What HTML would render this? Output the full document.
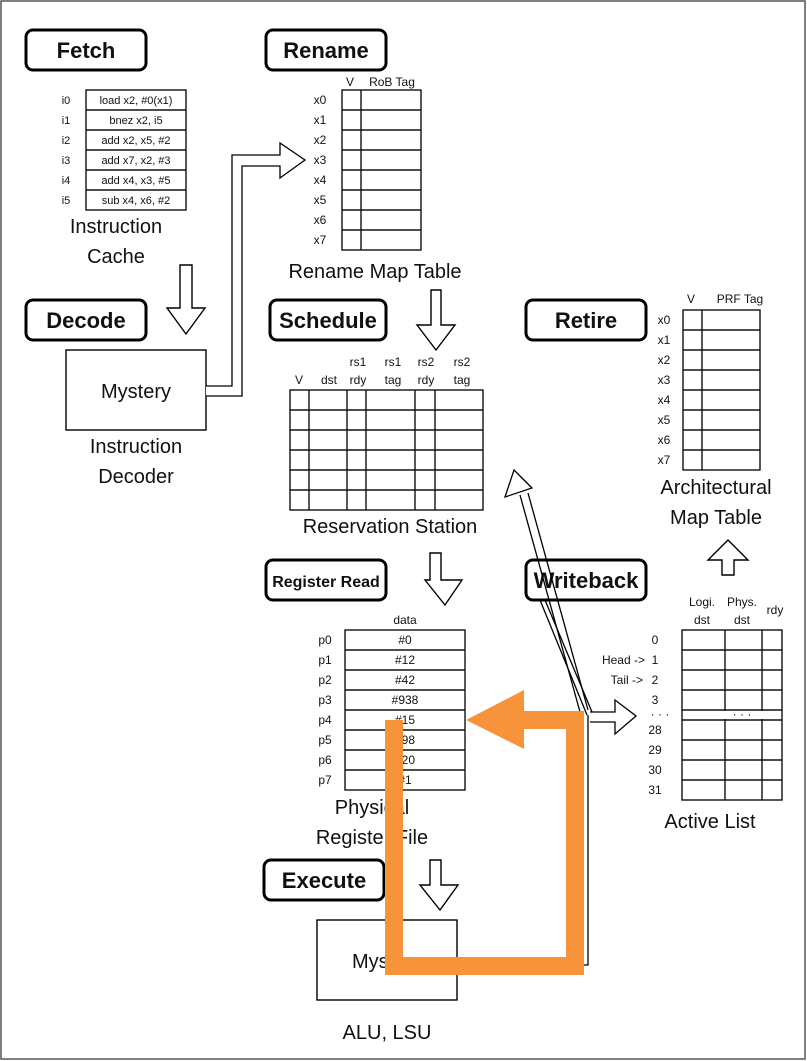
<!DOCTYPE html>
<html><head><style>
body{margin:0;background:#fff}
svg{display:block}
text{font-family:"Liberation Sans",sans-serif;fill:#111}
.s{font-size:11px}
.m{font-size:12px}
.l{font-size:20px}
.h{font-size:22px;font-weight:bold}
.t line,.t rect{stroke:#111;stroke-width:1.4;fill:none}
</style></head><body>
<svg width="807" height="1061" viewBox="0 0 807 1061">
<rect x="1" y="1" width="804" height="1058" fill="none" stroke="#555" stroke-width="1.5"/>
<g fill="none" stroke="#000" stroke-width="3">
<rect x="26" y="30" width="120" height="40" rx="7"/>
<rect x="266" y="30" width="120" height="40" rx="7"/>
<rect x="26" y="300" width="120" height="40" rx="7"/>
<rect x="270" y="300" width="116" height="40" rx="7"/>
<rect x="526" y="300" width="120" height="40" rx="7"/>
<rect x="266" y="560" width="120" height="40" rx="7"/>
<rect x="244" y="560" width="0" height="0"/>
<rect x="526" y="560" width="120" height="40" rx="7"/>
<rect x="264" y="860" width="120" height="40" rx="7"/>
</g>
<g text-anchor="middle">
<text x="86" y="58" class="h">Fetch</text>
<text x="326" y="58" class="h">Rename</text>
<text x="86" y="328" class="h">Decode</text>
<text x="328" y="328" class="h">Schedule</text>
<text x="586" y="328" class="h">Retire</text>
<text x="326" y="587" style="font-size:16px;font-weight:bold">Register Read</text>
<text x="586" y="588" class="h">Writeback</text>
<text x="324" y="888" class="h">Execute</text>
</g>
<!-- Instruction cache -->
<g class="t"><rect x="86" y="90" width="100" height="120"/>
<line x1="86" y1="110" x2="186" y2="110"/><line x1="86" y1="130" x2="186" y2="130"/><line x1="86" y1="150" x2="186" y2="150"/><line x1="86" y1="170" x2="186" y2="170"/><line x1="86" y1="190" x2="186" y2="190"/></g>
<g class="s" text-anchor="middle">
<text x="66" y="104">i0</text><text x="66" y="124">i1</text><text x="66" y="144">i2</text><text x="66" y="164">i3</text><text x="66" y="184">i4</text><text x="66" y="204">i5</text>
<text x="136" y="104">load x2, #0(x1)</text><text x="136" y="124">bnez x2, i5</text><text x="136" y="144">add x2, x5, #2</text><text x="136" y="164">add x7, x2, #3</text><text x="136" y="184">add x4, x3, #5</text><text x="136" y="204">sub x4, x6, #2</text>
</g>
<g class="l" text-anchor="middle"><text x="116" y="233">Instruction</text><text x="116" y="263">Cache</text></g>
<!-- Rename map -->
<g class="t"><rect x="342" y="90" width="79" height="160"/><line x1="361" y1="90" x2="361" y2="250"/>
<line x1="342" y1="110" x2="421" y2="110"/><line x1="342" y1="130" x2="421" y2="130"/><line x1="342" y1="150" x2="421" y2="150"/><line x1="342" y1="170" x2="421" y2="170"/><line x1="342" y1="190" x2="421" y2="190"/><line x1="342" y1="210" x2="421" y2="210"/><line x1="342" y1="230" x2="421" y2="230"/></g>
<g class="m" text-anchor="middle"><text x="350" y="86">V</text><text x="392" y="86">RoB Tag</text>
<text x="320" y="104">x0</text><text x="320" y="124">x1</text><text x="320" y="144">x2</text><text x="320" y="164">x3</text><text x="320" y="184">x4</text><text x="320" y="204">x5</text><text x="320" y="224">x6</text><text x="320" y="244">x7</text></g>
<text x="375" y="278" class="l" text-anchor="middle">Rename Map Table</text>
<!-- hollow down arrows -->
<g fill="#fff" stroke="#000" stroke-width="1.4">
<path d="M180,265 L192,265 L192,308 L205,308 L186,334 L167,308 L180,308 Z"/>
<path d="M431,290 L441,290 L441,325 L455,325 L436,350 L417,325 L431,325 Z"/>
<path d="M430,553 L441,553 L441,580 L462,580 L445,605 L425,580 L430,580 Z"/>
<path d="M430,860 L441,860 L441,885 L458,885 L440,910 L420,885 L430,885 Z"/>
<path d="M722,575 L734,575 L734,560 L748,560 L728,540 L708,560 L722,560 Z"/>
</g>
<!-- decoder -->
<rect x="66" y="350" width="140" height="80" fill="none" stroke="#000" stroke-width="1.4"/>
<text x="136" y="398" class="l" text-anchor="middle">Mystery</text>
<g class="l" text-anchor="middle"><text x="136" y="453">Instruction</text><text x="136" y="483">Decoder</text></g>
<path d="M206,386 L232,386 L232,155 L280,155 L280,143 L305,160 L280,178 L280,166 L242,166 L242,396 L206,396" fill="#fff" stroke="#000" stroke-width="1.3"/>
<!-- reservation station -->
<g class="t"><rect x="290" y="390" width="193" height="120"/>
<line x1="309" y1="390" x2="309" y2="510"/><line x1="347" y1="390" x2="347" y2="510"/><line x1="366" y1="390" x2="366" y2="510"/><line x1="415" y1="390" x2="415" y2="510"/><line x1="435" y1="390" x2="435" y2="510"/>
<line x1="290" y1="410" x2="483" y2="410"/><line x1="290" y1="430" x2="483" y2="430"/><line x1="290" y1="450" x2="483" y2="450"/><line x1="290" y1="470" x2="483" y2="470"/><line x1="290" y1="490" x2="483" y2="490"/></g>
<g class="m" text-anchor="middle"><text x="299" y="384">V</text><text x="329" y="384">dst</text>
<text x="358" y="366">rs1</text><text x="358" y="384">rdy</text><text x="393" y="366">rs1</text><text x="393" y="384">tag</text>
<text x="426" y="366">rs2</text><text x="426" y="384">rdy</text><text x="462" y="366">rs2</text><text x="462" y="384">tag</text></g>
<text x="390" y="533" class="l" text-anchor="middle">Reservation Station</text>
<!-- arch map -->
<g class="t"><rect x="683" y="310" width="77" height="160"/><line x1="702" y1="310" x2="702" y2="470"/>
<line x1="683" y1="330" x2="760" y2="330"/><line x1="683" y1="350" x2="760" y2="350"/><line x1="683" y1="370" x2="760" y2="370"/><line x1="683" y1="390" x2="760" y2="390"/><line x1="683" y1="410" x2="760" y2="410"/><line x1="683" y1="430" x2="760" y2="430"/><line x1="683" y1="450" x2="760" y2="450"/></g>
<g class="m" text-anchor="middle"><text x="691" y="303">V</text><text x="740" y="303">PRF Tag</text>
<text x="664" y="324">x0</text><text x="664" y="344">x1</text><text x="664" y="364">x2</text><text x="664" y="384">x3</text><text x="664" y="404">x4</text><text x="664" y="424">x5</text><text x="664" y="444">x6</text><text x="664" y="464">x7</text></g>
<g class="l" text-anchor="middle"><text x="716" y="494">Architectural</text><text x="716" y="524">Map Table</text></g>
<!-- PRF -->
<g class="t"><rect x="345" y="630" width="120" height="160"/>
<line x1="345" y1="650" x2="465" y2="650"/><line x1="345" y1="670" x2="465" y2="670"/><line x1="345" y1="690" x2="465" y2="690"/><line x1="345" y1="710" x2="465" y2="710"/><line x1="345" y1="730" x2="465" y2="730"/><line x1="345" y1="750" x2="465" y2="750"/><line x1="345" y1="770" x2="465" y2="770"/></g>
<g class="m" text-anchor="middle"><text x="405" y="624">data</text>
<text x="325" y="644">p0</text><text x="325" y="664">p1</text><text x="325" y="684">p2</text><text x="325" y="704">p3</text><text x="325" y="724">p4</text><text x="325" y="744">p5</text><text x="325" y="764">p6</text><text x="325" y="784">p7</text>
<text x="405" y="644">#0</text><text x="405" y="664">#12</text><text x="405" y="684">#42</text><text x="405" y="704">#938</text><text x="405" y="724">#15</text><text x="405" y="744">#98</text><text x="405" y="764">#20</text><text x="405" y="784">#1</text></g>
<g class="l" text-anchor="middle"><text x="372" y="814">Physical</text><text x="372" y="844">Register File</text></g>
<!-- active list -->
<g class="t"><rect x="682" y="630" width="100" height="170"/><line x1="725" y1="630" x2="725" y2="800"/><line x1="762" y1="630" x2="762" y2="800"/>
<line x1="682" y1="650" x2="782" y2="650"/><line x1="682" y1="670" x2="782" y2="670"/><line x1="682" y1="690" x2="782" y2="690"/><line x1="682" y1="710" x2="782" y2="710"/><line x1="682" y1="720" x2="782" y2="720"/><line x1="682" y1="740" x2="782" y2="740"/><line x1="682" y1="760" x2="782" y2="760"/><line x1="682" y1="780" x2="782" y2="780"/></g>
<rect x="700" y="711" width="80" height="8" fill="#fff"/>
<text x="742" y="718" class="m" text-anchor="middle">· · ·</text>
<g class="m" text-anchor="middle"><text x="702" y="606">Logi.</text><text x="702" y="624">dst</text><text x="742" y="606">Phys.</text><text x="742" y="624">dst</text><text x="775" y="614">rdy</text>
<text x="655" y="644">0</text><text x="655" y="664">1</text><text x="655" y="684">2</text><text x="655" y="704">3</text><text x="655" y="734">28</text><text x="655" y="754">29</text><text x="655" y="774">30</text><text x="655" y="794">31</text>
<text x="660" y="718">· · ·</text></g>
<g class="m" text-anchor="end"><text x="645" y="664">Head -&gt;</text><text x="643" y="684">Tail -&gt;</text></g>
<text x="710" y="828" class="l" text-anchor="middle">Active List</text>
<!-- execute -->
<rect x="317" y="920" width="140" height="80" fill="none" stroke="#000" stroke-width="1.4"/>
<text x="387" y="968" class="l" text-anchor="middle">Mystery</text>
<text x="387" y="1039" class="l" text-anchor="middle">ALU, LSU</text>
<!-- writeback connectors -->
<g fill="none" stroke="#000" stroke-width="1.3">
<path d="M540,600 L587,715 M545,600 L592,712"/>
<path d="M588,715 L588,965 L457,965"/>
<path d="M580,712 L520,495 M588,710 L528,493"/>
</g>
<path d="M505,497 L514,470 L532,488 Z" fill="#fff" stroke="#000" stroke-width="1.3"/>
<path d="M590,712 L615,712 L615,700 L636,716 L615,734 L615,722 L590,722" fill="#fff" stroke="#000" stroke-width="1.3"/>
<!-- orange -->
<path d="M394,720 L394,966 L575,966 L575,720 L515,720" fill="none" stroke="#f7943b" stroke-width="18"/>
<path d="M466,720 L524,690 L524,749 Z" fill="#f7943b"/>
</svg>
</body></html>
